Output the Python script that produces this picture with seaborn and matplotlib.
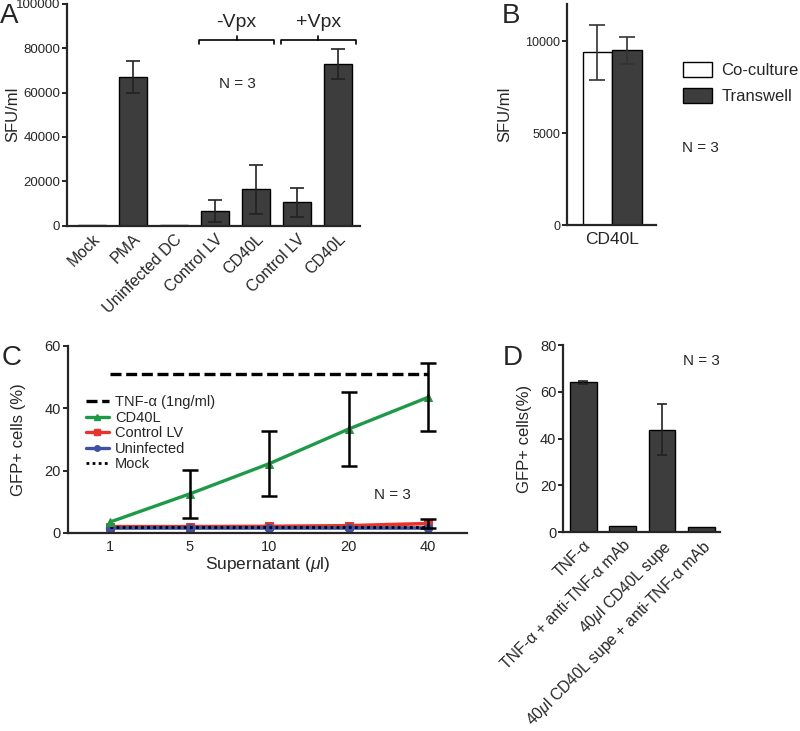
import numpy as np
import pandas as pd
import matplotlib
matplotlib.use("Agg")
import matplotlib.pyplot as plt
from matplotlib.lines import Line2D
from matplotlib.patches import Patch
import seaborn as sns

# ---- data ----
# panel A
a_labels = ["Mock", "PMA", "Uninfected DC", "Control LV", "CD40L", "Control LV ", "CD40L "]
a_values = [500, 67000, 600, 6800, 16500, 10700, 73000]
a_err = [0, 7300, 0, 5000, 11000, 6500, 6800]

# panel B
b_groups = ["Co-culture", "Transwell"]
b_values = [9400, 9500]
b_err = [1500, 730]

# panel C
c_doses = ["1", "5", "10", "20", "40"]
c_tnf = [51, 51, 51, 51, 51]
c_cd40l = [3.5, 12.5, 22.2, 33.3, 43.5]
c_cd40l_err = [0, 7.7, 10.5, 12.0, 10.9]
c_ctrl = [2.0, 2.0, 2.1, 2.3, 3.0]
c_ctrl_err = [0, 0, 0, 0, 1.5]
c_uninf = [1.5, 1.5, 1.5, 1.5, 1.5]
c_mock = [2.0, 2.0, 2.0, 2.0, 2.0]

# panel D
d_labels = ["TNF-α", "TNF-α + anti-TNF-α mAb", "40$\\mu$l CD40L supe",
            "40$\\mu$l CD40L supe + anti-TNF-α mAb"]
d_values = [64, 2.5, 43.7, 2.0]
d_err = [0.5, 0, 10.9, 0]

sns.set_style("ticks")
plt.rcParams['font.family'] = ['Liberation Sans', 'DejaVu Sans']
plt.rcParams['axes.linewidth'] = 1.6
plt.rcParams['xtick.major.width'] = 1.4
plt.rcParams['ytick.major.width'] = 1.4
plt.rcParams['ytick.major.size'] = 3.5
plt.rcParams['ytick.major.pad'] = 1.5
plt.rcParams['mathtext.fontset'] = 'custom'
plt.rcParams['mathtext.it'] = 'Liberation Sans:italic'
plt.rcParams['mathtext.rm'] = 'Liberation Sans'

bar_col = "#3d3d3d"
fig = plt.figure(figsize=(8, 7.31), dpi=100)


def err_bars(ax, xs, ys, errs, cap, color="#222222", lw=1.2):
    # only draw bars where there is an error value
    xs, ys, errs = np.asarray(xs), np.asarray(ys), np.asarray(errs)
    m = errs > 0
    ax.errorbar(xs[m], ys[m], yerr=errs[m], fmt="none", ecolor=color,
                elinewidth=lw, capsize=cap, capthick=lw, zorder=5)


# ---- A ----
axA = fig.add_axes([0.084, 0.691, 0.366, 0.304])
dfA = pd.DataFrame({"label": a_labels, "value": a_values})
sns.barplot(data=dfA, x="label", y="value", color=bar_col, edgecolor="black",
            linewidth=1, width=0.68, saturation=1, ax=axA)
err_bars(axA, np.arange(len(a_values)), a_values, a_err, 5)
axA.set_ylim(0, 100000)
axA.set_xlim(-0.61, 6.54)
axA.set_yticks([0, 20000, 40000, 60000, 80000, 100000])
axA.set_xlabel("")
axA.set_ylabel("SFU/ml", fontsize=12)
axA.yaxis.set_label_coords(-0.16, 0.5)
axA.tick_params(axis="y", labelsize=9.5)
axA.tick_params(axis="x", length=0, pad=4)
axA.set_xticks(range(len(a_labels)))
axA.set_xticklabels([l.strip() for l in a_labels], rotation=45, ha="right",
                    rotation_mode="anchor", fontsize=11.5)
sns.despine(ax=axA)
# braces
for x0, x1, lab in [(2.6, 4.45, "-Vpx"), (4.6, 6.45, "+Vpx")]:
    xm = (x0 + x1) / 2
    axA.plot([x0, x0, x1, x1], [82000, 83800, 83800, 82000], color="black", lw=1.2, clip_on=False)
    axA.plot([xm, xm], [83800, 85600], color="black", lw=1.2, clip_on=False)
    axA.text(xm, 87500, lab, ha="center", va="bottom", fontsize=14)
axA.text(3.55, 64000, "N = 3", ha="center", va="center", fontsize=11)
fig.text(0.0, 0.978, "A", fontsize=20, va="center")

# ---- B ----
axB = fig.add_axes([0.709, 0.692, 0.111, 0.302])
dfB = pd.DataFrame({"cond": ["CD40L", "CD40L"], "group": b_groups, "value": b_values})
sns.barplot(data=dfB, x="cond", y="value", hue="group", palette=["white", bar_col],
            edgecolor="black", linewidth=1, width=1.0, saturation=1, legend=False, ax=axB)
err_bars(axB, [-0.25, 0.25], b_values, b_err, 5.5, color="#333333")
axB.set_ylim(0, 12000)
axB.set_xlim(-0.76, 0.74)
axB.set_yticks([0, 5000, 10000])
axB.set_xlabel("")
axB.set_ylabel("SFU/ml", fontsize=12)
axB.yaxis.set_label_coords(-0.62, 0.5)
axB.tick_params(axis="y", labelsize=9)
axB.tick_params(axis="x", labelsize=12.5, length=0, pad=5)
sns.despine(ax=axB)
handles = [Patch(facecolor="white", edgecolor="black", label=b_groups[0]),
           Patch(facecolor=bar_col, edgecolor="black", label=b_groups[1])]
fig.legend(handles=handles, loc="upper left", bbox_to_anchor=(0.854, 0.915),
           frameon=False, fontsize=12, handlelength=1.75, handleheight=1.0,
           handletextpad=0.55, labelspacing=0.6, borderaxespad=0, borderpad=0)
fig.text(0.853, 0.797, "N = 3", fontsize=11, va="center")
fig.text(0.627, 0.978, "B", fontsize=20, va="center")

# ---- C ----
axC = fig.add_axes([0.085, 0.271, 0.499, 0.256])
xs = np.arange(len(c_doses))
green, red, blue = "#1c9a47", "#e8352b", "#3f51a3"
dash = (0, (3.3, 1.4))
dots = (0, (1, 1.2))
sns.lineplot(x=xs, y=c_tnf, color="black", lw=2.4, linestyle=dash, ax=axC)
sns.lineplot(x=xs, y=c_ctrl, color=red, lw=2.6, marker="s", markersize=6,
             markeredgecolor=red, ax=axC)
err_bars(axC, xs, c_ctrl, c_ctrl_err, 5.5, color="black", lw=1.8)
sns.lineplot(x=xs, y=c_uninf, color=blue, lw=2.6, marker="o", markersize=6,
             markeredgecolor=blue, ax=axC)
sns.lineplot(x=xs, y=c_mock, color="black", lw=2.0, linestyle=dots, ax=axC)
sns.lineplot(x=xs, y=c_cd40l, color=green, lw=2.4, marker="^", markersize=6,
             markeredgecolor=green, ax=axC)
err_bars(axC, xs, c_cd40l, c_cd40l_err, 5.5, color="black", lw=1.8)
axC.set_ylim(0, 60)
axC.set_xlim(-0.53, 4.49)
axC.set_yticks([0, 20, 40, 60])
axC.set_xticks(xs)
axC.set_xticklabels(c_doses)
axC.tick_params(axis="both", labelsize=10.5)
axC.tick_params(axis="x", length=0, pad=5)
axC.set_xlabel("Supernatant ($\\mathit{\\mu}$l)", fontsize=12.5, labelpad=1)
axC.set_ylabel("GFP+ cells (%)", fontsize=12)
axC.yaxis.set_label_coords(-0.105, 0.5)
sns.despine(ax=axC)
legC = [Line2D([], [], color="black", lw=2.4, linestyle=dash, label="TNF-α (1ng/ml)"),
        Line2D([], [], color=green, lw=2.4, marker="^", markersize=4, label="CD40L"),
        Line2D([], [], color=red, lw=2.4, marker="s", markersize=4, label="Control LV"),
        Line2D([], [], color=blue, lw=2.4, marker="o", markersize=4, label="Uninfected"),
        Line2D([], [], color="black", lw=2.0, linestyle=dots, label="Mock")]
axC.legend(handles=legC, loc="upper left", bbox_to_anchor=(0.045, 0.735), frameon=False,
           fontsize=10.5, handlelength=1.55, handletextpad=0.45, labelspacing=0.1,
           borderaxespad=0, borderpad=0)
axC.text(3.55, 12, "N = 3", ha="center", va="center", fontsize=11)
fig.text(0.002, 0.51, "C", fontsize=20, va="center")

# ---- D ----
axD = fig.add_axes([0.704, 0.272, 0.196, 0.256])
dfD = pd.DataFrame({"label": d_labels, "value": d_values})
sns.barplot(data=dfD, x="label", y="value", color=bar_col, edgecolor="black",
            linewidth=1, width=0.68, saturation=1, ax=axD)
err_bars(axD, np.arange(len(d_values)), d_values, d_err, 3.5)
axD.set_ylim(0, 80)
axD.set_xlim(-0.51, 3.47)
axD.set_yticks([0, 20, 40, 60, 80])
axD.set_xlabel("")
axD.set_ylabel("GFP+ cells(%)", fontsize=12)
axD.yaxis.set_label_coords(-0.2, 0.5)
axD.tick_params(axis="y", labelsize=10.5)
axD.tick_params(axis="x", length=0, pad=4)
axD.set_xticks(range(len(d_labels)))
axD.set_xticklabels(d_labels, rotation=45, ha="right", rotation_mode="anchor", fontsize=11.3)
sns.despine(ax=axD)
axD.text(3.0, 73, "N = 3", ha="center", va="center", fontsize=11)
fig.text(0.628, 0.51, "D", fontsize=20, va="center")

fig.savefig("out.png", dpi=100)
